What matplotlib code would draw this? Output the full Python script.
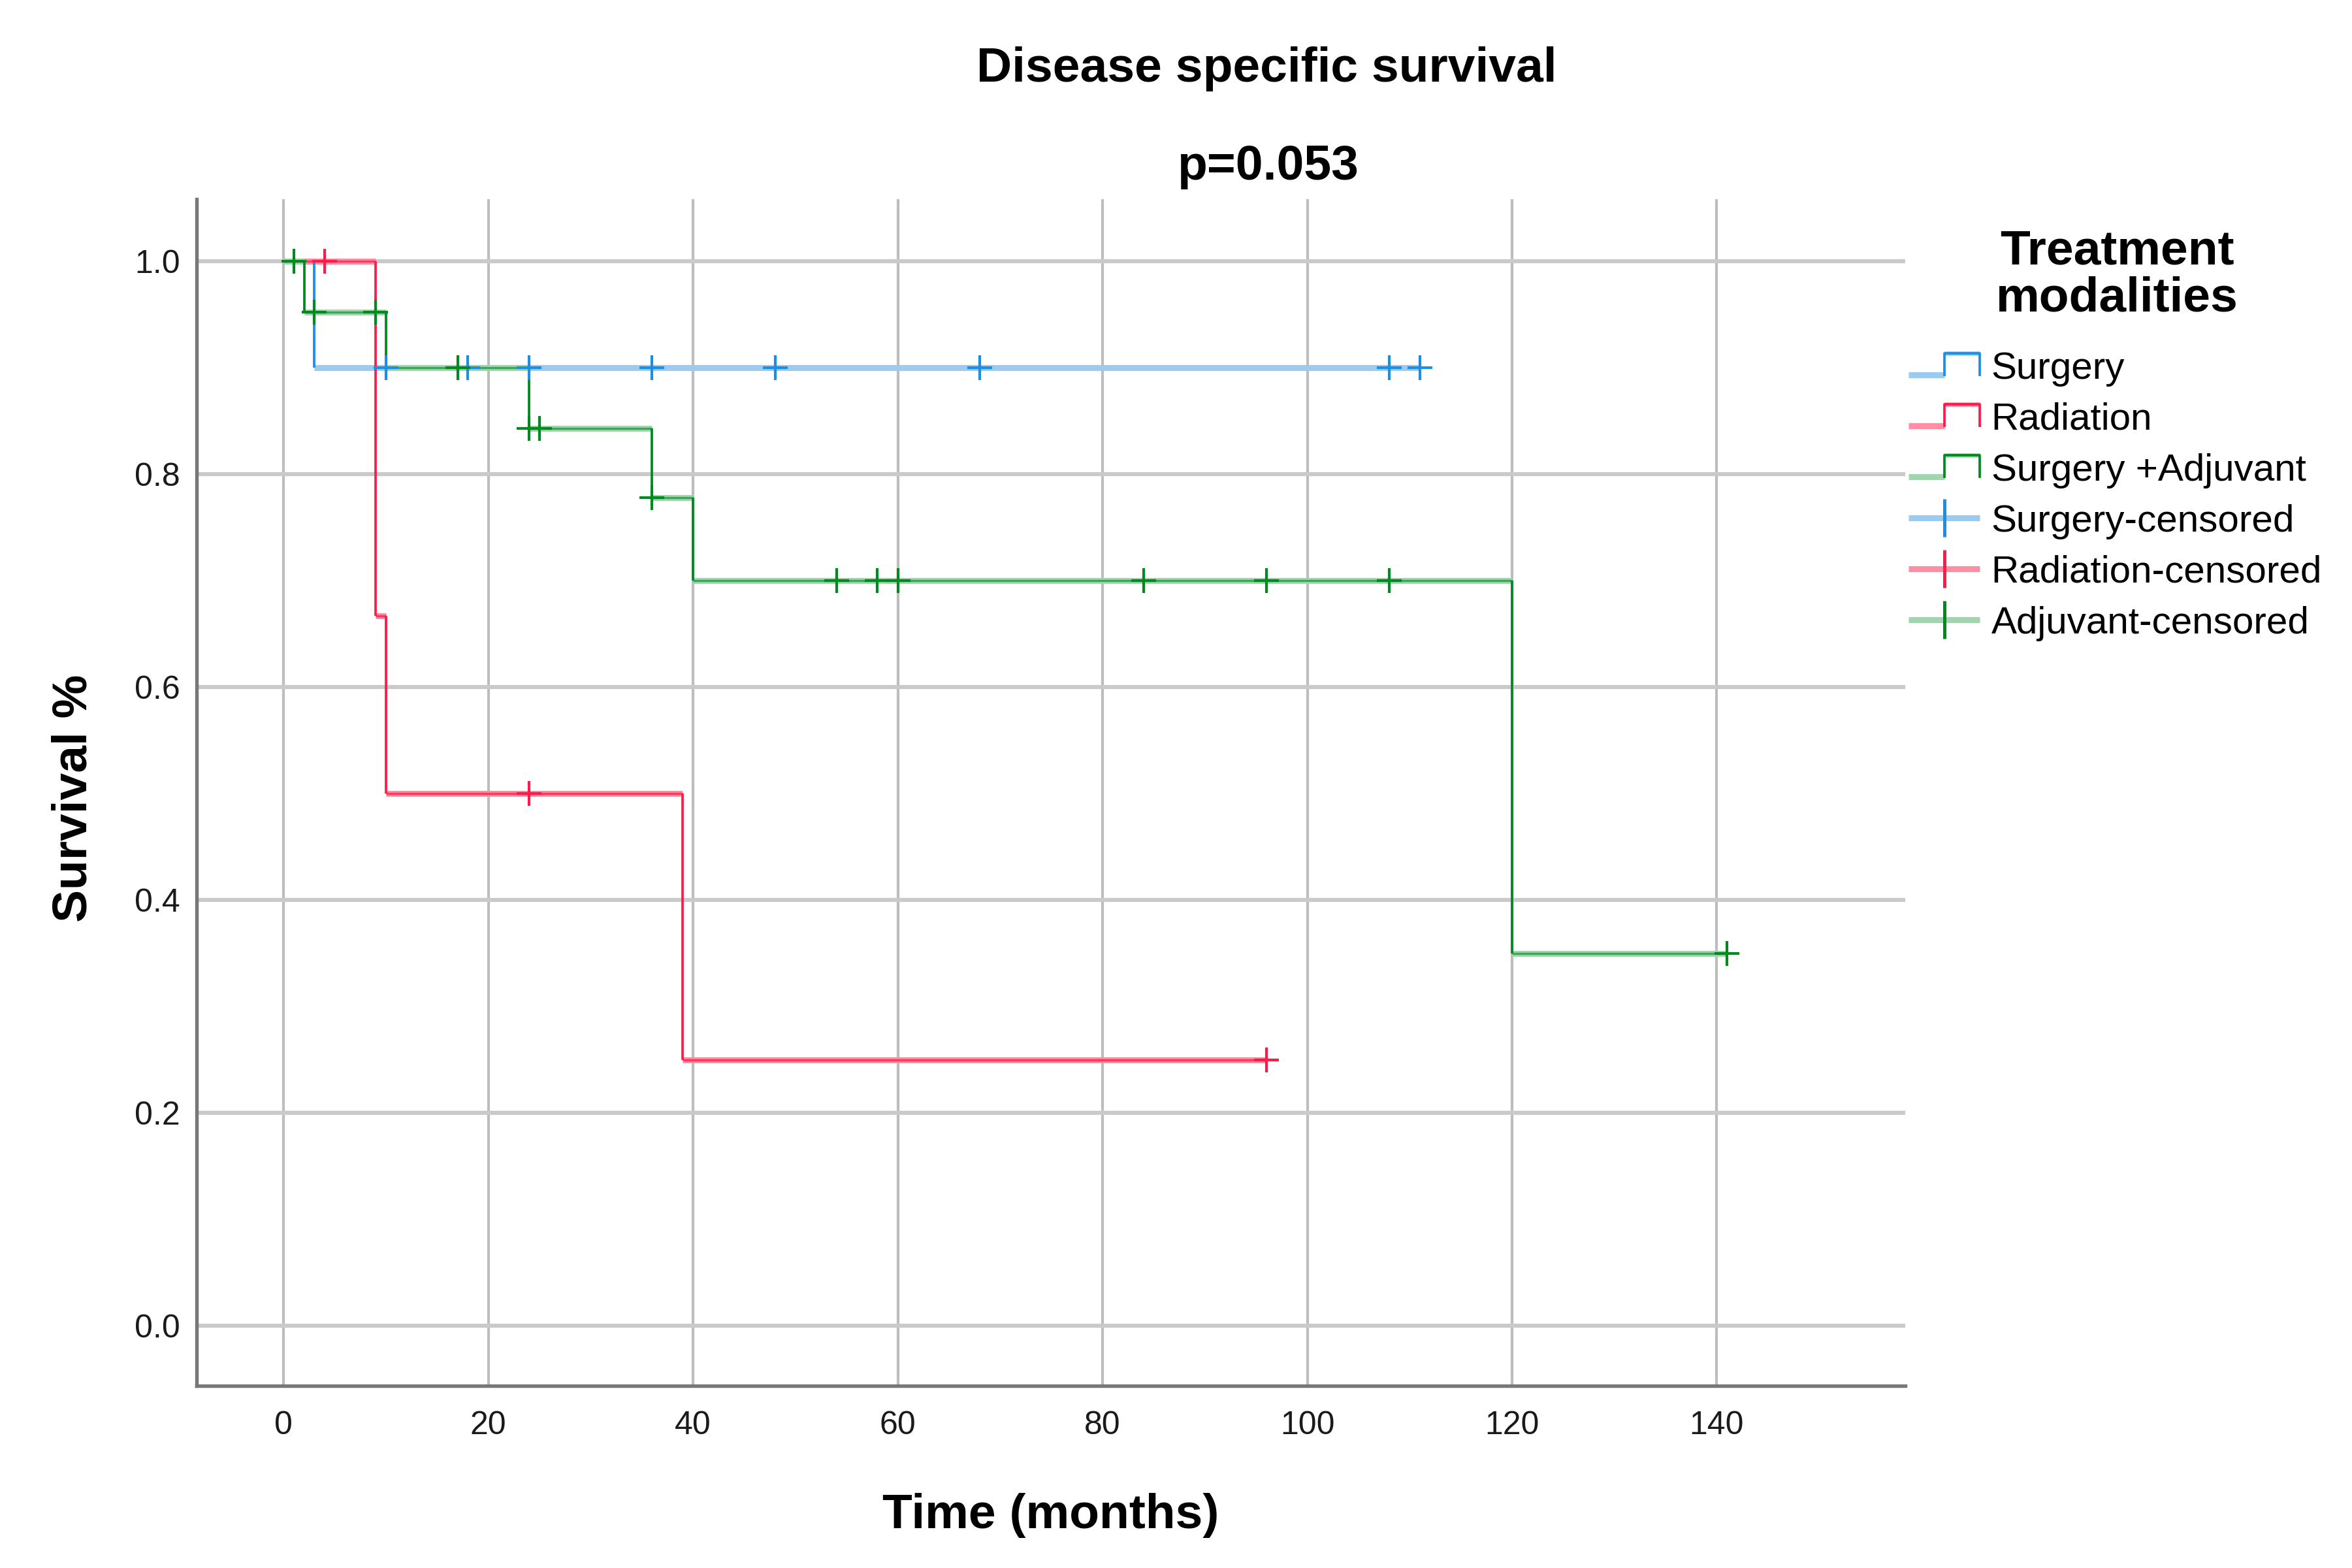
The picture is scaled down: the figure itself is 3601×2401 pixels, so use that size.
import numpy as np
import matplotlib
matplotlib.use("Agg")
import matplotlib.pyplot as plt
from matplotlib.lines import Line2D
from matplotlib.legend_handler import HandlerBase

plt.rcParams['font.family'] = ['Liberation Sans', 'DejaVu Sans']

# ---------------- data ----------------
groups = ["Surgery", "Radiation", "Surgery +Adjuvant"]
censor_labels = ["Surgery-censored", "Radiation-censored", "Adjuvant-censored"]

surgery_event_t = [0, 3]
surgery_surv = [1.0, 0.9]
surgery_censored = [10, 18, 24, 36, 48, 68, 108, 111]

radiation_event_t = [0, 9, 10, 39]
radiation_surv = [1.0, 0.667, 0.5, 0.25]
radiation_censored = [4, 24, 96]

adjuvant_event_t = [0, 2, 10, 24, 36, 40, 120]
adjuvant_surv = [1.0, 0.952, 0.9, 0.843, 0.778, 0.70, 0.35]
adjuvant_censored = [1, 3, 9, 17, 24, 25, 36, 54, 58, 60, 84, 96, 108, 141]

x_ticks = [0, 20, 40, 60, 80, 100, 120, 140]
y_ticks = [0.0, 0.2, 0.4, 0.6, 0.8, 1.0]

title = "Disease specific survival"
subtitle = "p=0.053"
legend_title = "Treatment\nmodalities"

# ---------------- styles ----------------
styles = {
    "Surgery": dict(dark="#1b8fe4", light="#9ccbf2", center=None),
    "Radiation": dict(dark="#ff1a4b", light="#ff8ea4", center="#ff3a62"),
    "Surgery +Adjuvant": dict(dark="#00891f", light="#a2d5ad", center="#3aa85a"),
}

series = [
    ("Surgery", surgery_event_t, surgery_surv, surgery_censored),
    ("Radiation", radiation_event_t, radiation_surv, radiation_censored),
    ("Surgery +Adjuvant", adjuvant_event_t, adjuvant_surv, adjuvant_censored),
]

fig = plt.figure(figsize=(12.0035, 8.0035), dpi=300)
ax = fig.add_axes([0.08359, 0.11620, 0.81000 - 0.08359, 0.87297 - 0.11620])

ax.set_xlim(-8.5, 158.4)
ax.set_ylim(-0.0564, 1.0583)
ax.set_xticks(x_ticks)
ax.set_yticks(y_ticks)
ax.set_yticklabels([f"{v:.1f}" for v in y_ticks])

# grid
for xt in x_ticks:
    ax.axvline(xt, color="#bdbdbd", lw=1.0, zorder=0)
for yt in y_ticks:
    ax.axhline(yt, color="#cacaca", lw=1.5, zorder=0)

for name, et, sv, cens in series:
    st = styles[name]
    et = np.asarray(et, float)
    sv = np.asarray(sv, float)
    end = max(cens)
    x_start = et
    x_end = np.append(et[1:], end)
    # horizontal segments
    ax.hlines(sv, x_start, x_end, colors=st["light"], lw=2.2, zorder=3)
    if st["center"]:
        ax.hlines(sv, x_start, x_end, colors=st["center"], lw=0.8, zorder=4)
    # vertical drops
    ax.vlines(et[1:], sv[1:], sv[:-1], colors=st["dark"], lw=0.9, zorder=4)
    # censor marks
    idx = np.searchsorted(et, np.asarray(cens, float), side="right") - 1
    ax.plot(cens, sv[idx], linestyle="none", marker="+", markersize=9,
            mew=1.0, color=st["dark"], zorder=5)

for side in ["top", "right"]:
    ax.spines[side].set_visible(False)
for side in ["left", "bottom"]:
    ax.spines[side].set_color("#777777")
    ax.spines[side].set_linewidth(1.3)

ax.tick_params(axis="both", length=0, labelsize=12, colors="#1a1a1a")
ax.tick_params(axis="x", pad=9)
ax.tick_params(axis="y", pad=6)

ax.set_xlabel("Time (months)", fontsize=18, fontweight="bold", va="center", ha="center")
ax.xaxis.set_label_coords(0.5, -0.109)
ax.set_ylabel("Survival %", fontsize=18, fontweight="bold", va="center", ha="center")
ax.yaxis.set_label_coords(-0.072, 0.495)

fig.text(1939 / 3601, 1 - 105 / 2401, title, fontsize=18, fontweight="bold",
         ha="center", va="center")
fig.text(1941 / 3601, 1 - 255 / 2401, subtitle, fontsize=18, fontweight="bold",
         ha="center", va="center")


# ---------------- legend ----------------
class StepHandler(HandlerBase):
    def __init__(self, light, dark):
        super().__init__()
        self.light, self.dark = light, dark

    def create_artists(self, legend, orig_handle, xdescent, ydescent, width,
                       height, fontsize, trans):
        x0, y0 = -xdescent, -ydescent
        lo, hi = y0 + height * 0.15, y0 + height * 0.95
        xm, x1 = x0 + width * 0.5, x0 + width
        a = Line2D([x0, xm], [lo, lo], color=self.light, lw=2.2, transform=trans,
                   solid_capstyle="butt")
        b = Line2D([xm, xm, x1, x1], [lo, hi, hi, lo], color=self.dark, lw=0.9,
                   transform=trans)
        c = Line2D([xm, x1], [hi, hi], color=self.light, lw=1.6, transform=trans,
                   solid_capstyle="butt")
        return [a, c, b]


class CensorHandler(HandlerBase):
    def __init__(self, light, dark):
        super().__init__()
        self.light, self.dark = light, dark

    def create_artists(self, legend, orig_handle, xdescent, ydescent, width,
                       height, fontsize, trans):
        x0, y0 = -xdescent, -ydescent
        ym = y0 + height * 0.5
        xm, x1 = x0 + width * 0.5, x0 + width
        a = Line2D([x0, x1], [ym, ym], color=self.light, lw=2.2, transform=trans,
                   solid_capstyle="butt")
        b = Line2D([xm], [ym], marker="|", markersize=14, mew=1.2, color=self.dark,
                   linestyle="none", transform=trans)
        return [a, b]


handles, labels, hmap = [], [], {}
for name in groups:
    h = Line2D([], [])
    handles.append(h)
    labels.append(name)
    hmap[h] = StepHandler(styles[name]["light"], styles[name]["dark"])
for name, lab in zip(groups, censor_labels):
    h = Line2D([], [])
    handles.append(h)
    labels.append(lab)
    hmap[h] = CensorHandler(styles[name]["light"], styles[name]["dark"])

leg = fig.legend(handles, labels, handler_map=hmap, loc="upper left",
                 bbox_to_anchor=(2922 / 3601, 1 - 538 / 2401), frameon=False,
                 fontsize=14, handlelength=1.87, handletextpad=0.3,
                 labelspacing=0.41, borderpad=0, borderaxespad=0, handleheight=0.7)

fig.text(3241 / 3601, 1 - 421 / 2401, legend_title, fontsize=18, fontweight="bold",
         ha="center", va="center", linespacing=1.05)

fig.savefig("out.png", dpi=300, facecolor="white")
